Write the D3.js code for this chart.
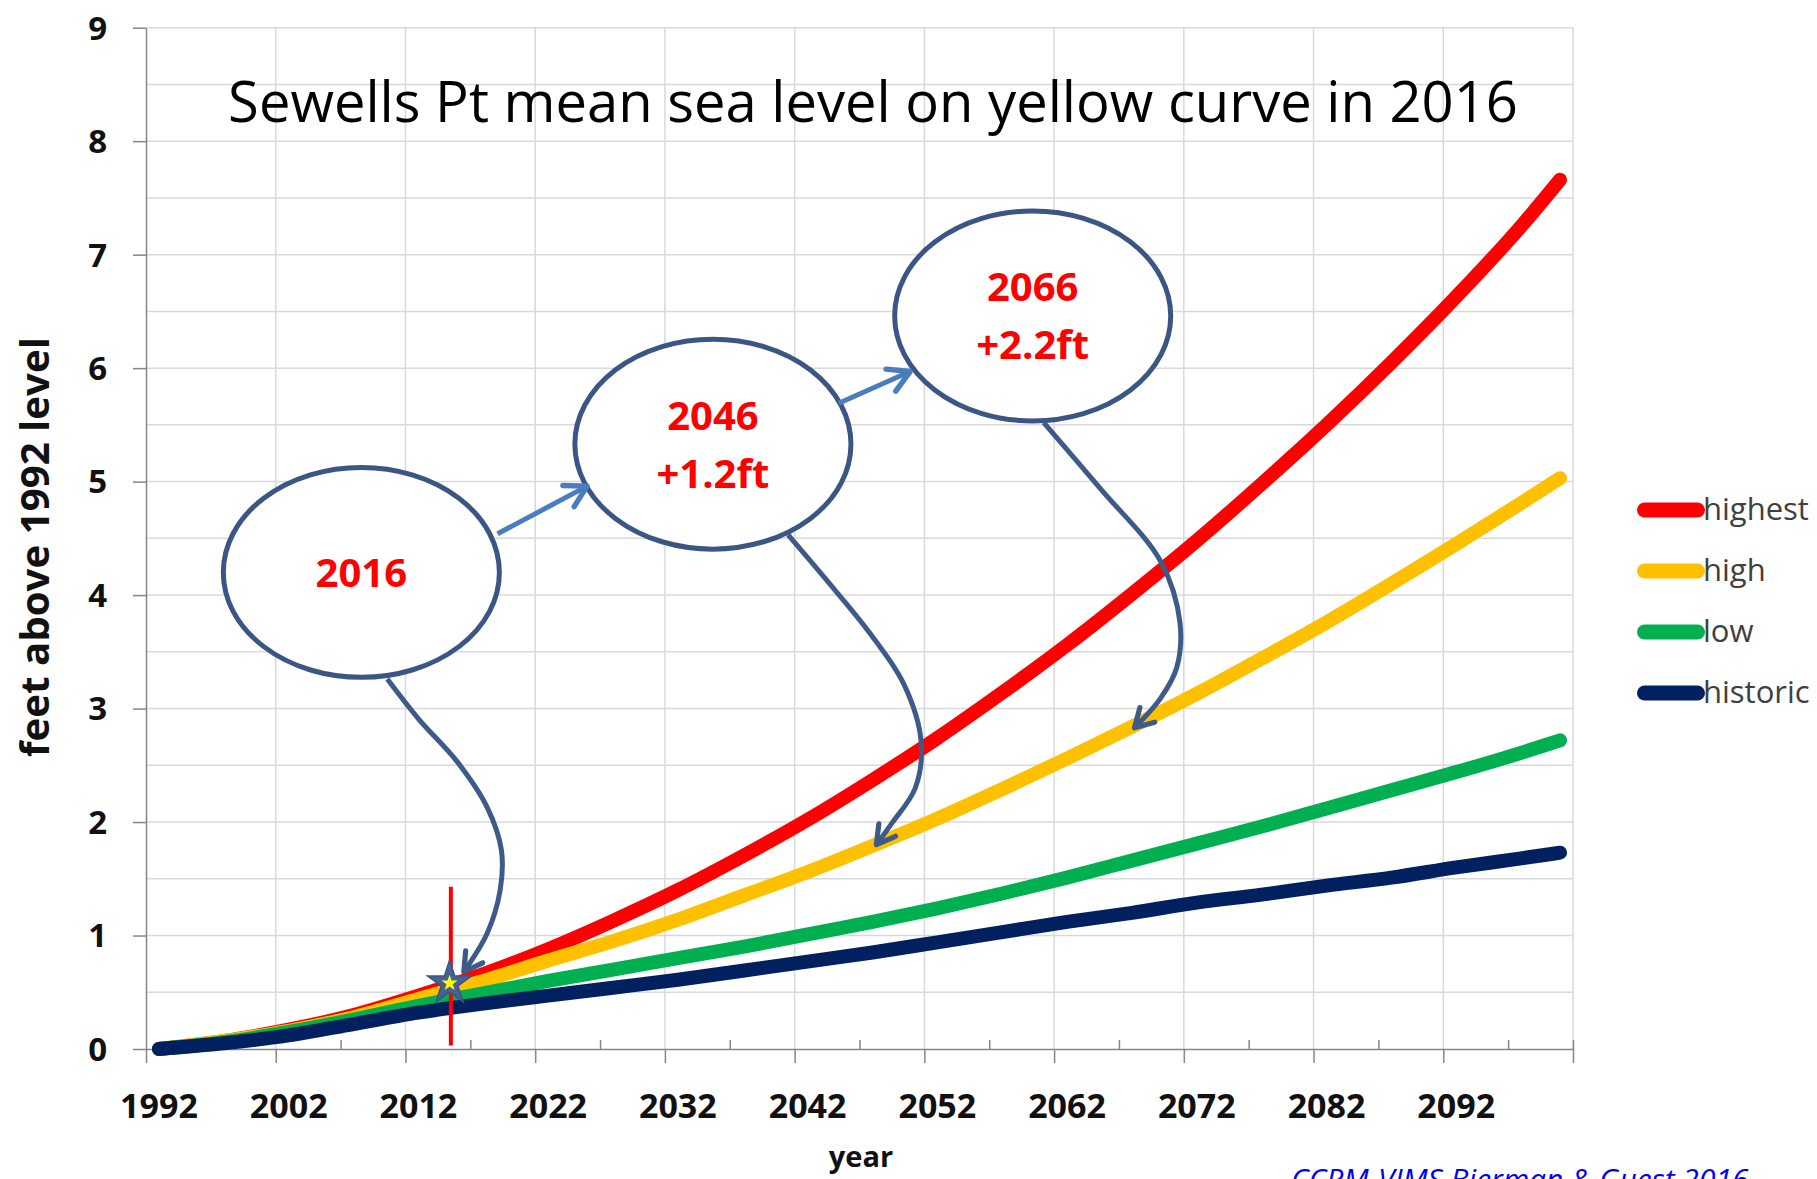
<!DOCTYPE html>
<html>
<head>
<meta charset="utf-8">
<title>Sewells Pt mean sea level</title>
<script src="https://cdn.jsdelivr.net/npm/d3@7"></script>
<style>
  body { margin: 0; background: #fff; overflow: hidden; }
  svg { display: block; font-family: "Open Sans", sans-serif; }
</style>
</head>
<body>
<script>
  // years the curves were read at
  const years = [1992, 1997, 2002, 2007, 2012, 2017, 2022, 2027, 2032, 2037, 2042, 2047,
                 2052, 2057, 2062, 2067, 2072, 2077, 2082, 2087, 2092, 2097, 2100];
  // feet above 1992 level
  const highest  = [0, 0.07, 0.17, 0.30, 0.47, 0.66, 0.88, 1.13, 1.40, 1.70, 2.02, 2.37,
                    2.74, 3.14, 3.56, 4.01, 4.48, 4.98, 5.50, 6.05, 6.63, 7.25, 7.66];
  const high     = [0, 0.07, 0.16, 0.28, 0.44, 0.60, 0.78, 0.95, 1.14, 1.35, 1.56, 1.79,
                    2.03, 2.29, 2.56, 2.84, 3.13, 3.44, 3.76, 4.10, 4.45, 4.81, 5.03];
  const low      = [0, 0.06, 0.15, 0.26, 0.38, 0.49, 0.60, 0.70, 0.80, 0.90, 1.01, 1.12,
                    1.24, 1.37, 1.51, 1.66, 1.81, 1.96, 2.12, 2.28, 2.44, 2.61, 2.72];
  const historic = [0, 0.05, 0.12, 0.22, 0.32, 0.40, 0.47, 0.54, 0.61, 0.69, 0.77, 0.85,
                    0.94, 1.03, 1.12, 1.20, 1.29, 1.36, 1.44, 1.51, 1.60, 1.68, 1.73];

  const seriesNames = ["highest", "high", "low", "historic"];
  const seriesValues = [highest, high, low, historic];
  const seriesColors = ["#ff0000", "#ffc000", "#00b050", "#002060"];

  const yTicks = [0, 1, 2, 3, 4, 5, 6, 7, 8, 9];
  const xTickLabels = [1992, 2002, 2012, 2022, 2032, 2042, 2052, 2062, 2072, 2082, 2092];

  // callouts: [year, feet] of centre, texts
  const bubbles = [
    { c: [2007.6, 4.20], lines: ["2016"] },
    { c: [2034.7, 5.33], lines: ["2046", "+1.2ft"] },
    { c: [2059.35, 6.46], lines: ["2066", "+2.2ft"] }
  ];
  const straightArrows = [
    [[2018.1, 4.54], [2025.0, 4.96]],
    [[2044.4, 5.69], [2049.9, 5.97]]
  ];
  const curvedArrows = [
    [[2009.6, 3.26], [2012.0, 2.91], [2015.0, 2.53], [2017.3, 2.13], [2018.4, 1.75],
     [2018.3, 1.40], [2017.3, 1.02], [2015.5, 0.68]],
    [[2040.5, 4.53], [2043.4, 4.14], [2046.7, 3.68], [2049.4, 3.22], [2050.75, 2.71],
     [2050.3, 2.30], [2048.5, 1.99], [2047.3, 1.80]],
    [[2060.2, 5.52], [2064.55, 4.94], [2069.2, 4.30], [2070.7, 3.76], [2070.45, 3.36],
     [2069.2, 3.09], [2067.2, 2.83]]
  ];
  const markYear = 2014.5;       // red vertical marker
  const markRange = [0.03, 1.43];
  const starAt = [2014.4, 0.58];

  const W = 1817, H = 1179;
  const x = d3.scaleLinear().domain([1991, 2101]).range([146, 1573]);
  const y = d3.scaleLinear().domain([0, 9]).range([1049, 27.7]);

  const svg = d3.select("body").append("svg")
    .attr("width", W)
    .attr("height", H);

  function fitWidth(sel, target) {
    const fs = parseFloat(sel.attr("font-size"));
    const w = sel.node().getComputedTextLength();
    if (w > 0) sel.attr("font-size", (fs * target / w).toFixed(2));
  }

  // gridlines
  const grid = svg.append("g").attr("stroke", "#d9d9d9").attr("stroke-width", 1.5);
  grid.selectAll("line.h")
    .data(d3.range(0.5, 9.01, 0.5))
    .join("line")
    .attr("x1", x(1991)).attr("x2", x(2101))
    .attr("y1", d => y(d)).attr("y2", d => y(d));
  grid.selectAll("line.v")
    .data(d3.range(2001, 2102, 10))
    .join("line")
    .attr("x1", d => x(d)).attr("x2", d => x(d))
    .attr("y1", y(9)).attr("y2", y(0));

  // y axis
  const yAxisG = svg.append("g")
    .attr("transform", `translate(${x(1991)},0)`)
    .call(d3.axisLeft(y).tickValues(yTicks).tickSize(13).tickSizeOuter(0).tickFormat(""));
  yAxisG.selectAll("path, line").attr("stroke", "#868686").attr("stroke-width", 1.5);

  svg.append("g").selectAll("text")
    .data(yTicks)
    .join("text")
    .attr("x", 107)
    .attr("y", d => y(d))
    .attr("dy", "0.36em")
    .attr("text-anchor", "end")
    .attr("font-size", 33)
    .attr("font-weight", 700)
    .attr("fill", "#111")
    .text(d => d);

  // x axis: major ticks between categories, minor ticks upward
  const xAxisG = svg.append("g")
    .attr("transform", `translate(0,${y(0)})`)
    .call(d3.axisBottom(x).tickValues(d3.range(1991, 2102, 10)).tickSize(14).tickSizeOuter(0).tickFormat(""));
  xAxisG.append("g")
    .call(d3.axisTop(x).tickValues(d3.range(1996, 2100, 10).concat([2101])).tickSize(9).tickSizeOuter(0).tickFormat(""))
    .select(".domain").remove();
  xAxisG.selectAll("path, line").attr("stroke", "#868686").attr("stroke-width", 1.5);

  svg.append("g").selectAll("text")
    .data(xTickLabels)
    .join("text")
    .attr("x", d => x(d))
    .attr("y", 1118)
    .attr("text-anchor", "middle")
    .attr("font-size", 34)
    .attr("font-weight", 700)
    .attr("fill", "#111")
    .text(d => d);

  // axis titles
  svg.append("text")
    .attr("x", 861).attr("y", 1167)
    .attr("text-anchor", "middle")
    .attr("font-size", 29)
    .attr("font-weight", 700)
    .attr("fill", "#111")
    .text("year");

  const yTitle = svg.append("text")
    .attr("transform", "translate(49,547) rotate(-90)")
    .attr("text-anchor", "middle")
    .attr("font-size", 38)
    .attr("font-weight", 700)
    .attr("fill", "#111")
    .text("feet above 1992 level");
  fitWidth(yTitle, 420);

  // title
  const title = svg.append("text")
    .attr("x", 873).attr("y", 122)
    .attr("text-anchor", "middle")
    .attr("font-size", 54)
    .attr("fill", "#000")
    .text("Sewells Pt mean sea level on yellow curve in 2016");
  fitWidth(title, 1290);

  // curves
  const line = d3.line()
    .x((d, i) => x(years[i]))
    .y(d => y(d))
    .curve(d3.curveMonotoneX);

  svg.append("g").selectAll("path")
    .data(seriesValues)
    .join("path")
    .attr("d", d => line(d))
    .attr("fill", "none")
    .attr("stroke", (d, i) => seriesColors[i])
    .attr("stroke-width", 14)
    .attr("stroke-linecap", "round")
    .attr("stroke-linejoin", "round");

  // red marker line at the current year
  svg.append("line")
    .attr("x1", x(markYear)).attr("x2", x(markYear))
    .attr("y1", y(markRange[0])).attr("y2", y(markRange[1]))
    .attr("stroke", "#ff0000")
    .attr("stroke-width", 4);

  // arrow heads
  const defs = svg.append("defs");
  function addMarker(id, color, size, sw) {
    defs.append("marker")
      .attr("id", id)
      .attr("viewBox", "0 0 20 20")
      .attr("refX", 17).attr("refY", 10)
      .attr("markerWidth", size).attr("markerHeight", size)
      .attr("markerUnits", "userSpaceOnUse")
      .attr("orient", "auto")
      .append("path")
      .attr("d", "M3,2 L17,10 L3,18")
      .attr("fill", "none")
      .attr("stroke", color)
      .attr("stroke-width", sw)
      .attr("stroke-linecap", "round")
      .attr("stroke-linejoin", "round");
  }
  addMarker("headLight", "#4a7dbd", 30, 3.6);
  addMarker("headDark", "#3d5a89", 26, 4);

  // bubbles
  const bubbleG = svg.append("g").selectAll("g")
    .data(bubbles)
    .join("g")
    .attr("transform", d => `translate(${x(d.c[0])},${y(d.c[1])})`);
  bubbleG.append("ellipse")
    .attr("rx", x(10.64) - x(0))
    .attr("ry", y(0) - y(0.925))
    .attr("fill", "#fff")
    .attr("stroke", "#3b5584")
    .attr("stroke-width", 5);
  bubbleG.selectAll("text")
    .data(d => d.lines.map((t, i) => ({ t, off: d.lines.length === 1 ? 0 : (i === 0 ? -29 : 29) })))
    .join("text")
    .attr("y", d => d.off)
    .attr("dy", "0.36em")
    .attr("text-anchor", "middle")
    .attr("font-size", 40)
    .attr("font-weight", 700)
    .attr("fill", "#ff0000")
    .text(d => d.t);

  // straight arrows between bubbles
  svg.append("g").selectAll("line")
    .data(straightArrows)
    .join("line")
    .attr("x1", d => x(d[0][0])).attr("y1", d => y(d[0][1]))
    .attr("x2", d => x(d[1][0])).attr("y2", d => y(d[1][1]))
    .attr("stroke", "#4a7dbd")
    .attr("stroke-width", 5)
    .attr("marker-end", "url(#headLight)");

  // curved arrows to the curves
  const arrowLine = d3.line()
    .x(d => x(d[0]))
    .y(d => y(d[1]))
    .curve(d3.curveCatmullRom);
  svg.append("g").selectAll("path")
    .data(curvedArrows)
    .join("path")
    .attr("d", d => arrowLine(d))
    .attr("fill", "none")
    .attr("stroke", "#3d5a89")
    .attr("stroke-width", 5)
    .attr("marker-end", "url(#headDark)");

  // star on the yellow curve
  const starG = svg.append("g")
    .attr("transform", `translate(${x(starAt[0])},${y(starAt[1])})`);
  starG.append("path")
    .attr("d", d3.symbol(d3.symbolStar, 600)())
    .attr("fill", "#4a5f96")
    .attr("stroke", "#3b5584")
    .attr("stroke-width", 1.5);
  starG.append("path")
    .attr("d", d3.symbol(d3.symbolStar, 80)())
    .attr("fill", "#ffff00");

  // legend
  const legend = svg.append("g").selectAll("g")
    .data(seriesNames)
    .join("g")
    .attr("transform", (d, i) => `translate(1637,${510 + i * 61})`);
  legend.append("line")
    .attr("x1", 7.5).attr("x2", 60.5)
    .attr("stroke", (d, i) => seriesColors[i])
    .attr("stroke-width", 15)
    .attr("stroke-linecap", "round");
  legend.append("text")
    .attr("x", 66).attr("y", 10)
    .attr("font-size", 31)
    .attr("fill", "#404040")
    .text(d => d);

  // source note, cut by the page edge as in the original
  svg.append("text")
    .attr("x", 1291).attr("y", 1190)
    .attr("font-size", 30)
    .attr("font-style", "italic")
    .attr("fill", "#0000ff")
    .text("CCRM-VIMS Bierman & Guest 2016");
</script>
</body>
</html>
